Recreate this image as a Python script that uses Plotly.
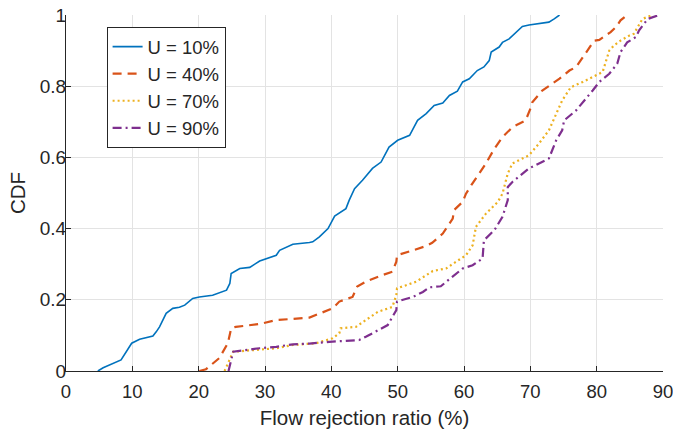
import plotly.graph_objects as go

# CDF curves
u10_x = [4.8, 5.6, 8.3, 9.9, 11.1, 13.1, 13.6, 14.1, 15.1, 16.1, 17.1, 17.9, 19.1, 20.1, 22.1,
         24.2, 24.7, 24.9, 26.2, 27.7, 29.2, 31.7, 32.2, 34.2, 36.7, 37.2, 38.2, 39.5, 40.5,
         42.2, 42.7, 43.5, 44.7, 46.2, 47.5, 48.7, 50.0, 51.8, 53.0, 54.3, 55.5, 56.8, 57.8,
         59.0, 59.8, 60.8, 62.0, 63.0, 63.8, 64.1, 65.3, 65.8, 66.8, 67.8, 68.8, 69.8, 71.3,
         72.8, 73.6, 74.4]
u10_y = [0.0, 0.009, 0.031, 0.078, 0.089, 0.098, 0.110, 0.124, 0.162, 0.176, 0.179, 0.185, 0.204,
         0.208, 0.213, 0.227, 0.246, 0.274, 0.288, 0.291, 0.309, 0.325, 0.339, 0.356, 0.361,
         0.363, 0.377, 0.400, 0.435, 0.456, 0.480, 0.512, 0.536, 0.569, 0.587, 0.629, 0.648,
         0.662, 0.704, 0.723, 0.746, 0.753, 0.774, 0.786, 0.812, 0.821, 0.844, 0.854, 0.872,
         0.896, 0.910, 0.923, 0.933, 0.952, 0.968, 0.972, 0.975, 0.980, 0.989, 1.0]

u40_x = [20.1, 21.1, 23.1, 24.4, 24.9, 25.6, 29.2, 31.7, 36.7, 38.2, 40.2, 41.2, 43.2, 43.9,
         45.2, 47.2, 49.2, 49.8, 49.9, 52.3, 54.3, 55.2, 56.8, 58.3, 58.5, 59.8, 60.3, 61.1,
         63.3, 64.6, 65.8, 67.3, 69.3, 70.1, 70.3, 71.8, 74.4, 75.9, 76.9, 78.1, 78.9, 79.6,
         80.4, 82.1, 82.9, 83.6, 84.6]
u40_y = [0.0, 0.005, 0.036, 0.078, 0.120, 0.124, 0.132, 0.143, 0.150, 0.162, 0.176, 0.195, 0.208,
         0.237, 0.251, 0.266, 0.279, 0.307, 0.325, 0.339, 0.351, 0.360, 0.386, 0.428, 0.452,
         0.475, 0.498, 0.522, 0.583, 0.625, 0.657, 0.685, 0.704, 0.741, 0.755, 0.788, 0.821,
         0.844, 0.854, 0.886, 0.910, 0.928, 0.930, 0.952, 0.966, 0.985, 1.0]

u70_x = [23.9, 25.2, 31.7, 34.2, 37.7, 40.2, 41.2, 41.4, 43.7, 45.7, 47.0, 49.2, 49.8, 49.9,
         52.8, 55.3, 57.3, 58.8, 60.3, 61.3, 61.8, 63.3, 65.1, 65.8, 66.6, 67.3, 69.8, 71.3,
         72.8, 74.8, 76.1, 77.9, 79.4, 80.9, 81.9, 82.6, 83.6, 84.9, 85.6, 86.4, 86.9, 88.4]
u70_y = [0.0, 0.054, 0.064, 0.073, 0.078, 0.092, 0.106, 0.120, 0.124, 0.148, 0.166, 0.180, 0.213,
         0.232, 0.251, 0.281, 0.288, 0.307, 0.325, 0.353, 0.405, 0.442, 0.475, 0.498, 0.555,
         0.583, 0.606, 0.639, 0.676, 0.760, 0.797, 0.812, 0.826, 0.840, 0.900, 0.914, 0.928,
         0.942, 0.947, 0.975, 0.989, 1.0]

u90_x = [24.5, 25.2, 29.2, 31.7, 34.2, 36.7, 39.7, 44.2, 45.2, 47.2, 48.5, 49.2, 49.8, 49.9,
         52.3, 53.8, 54.8, 56.5, 58.3, 59.8, 61.3, 62.8, 63.0, 64.6, 65.8, 66.6, 66.6, 67.3,
         69.8, 72.8, 73.9, 74.8, 75.1, 76.9, 79.4, 80.4, 81.9, 83.1, 83.6, 84.6, 85.9, 86.4,
         87.7, 89.4]
u90_y = [0.0, 0.054, 0.064, 0.068, 0.075, 0.077, 0.082, 0.087, 0.096, 0.115, 0.129, 0.152, 0.171,
         0.195, 0.208, 0.222, 0.235, 0.238, 0.265, 0.288, 0.297, 0.316, 0.367, 0.396, 0.433,
         0.480, 0.517, 0.531, 0.569, 0.597, 0.648, 0.676, 0.704, 0.732, 0.788, 0.812, 0.835,
         0.863, 0.896, 0.923, 0.938, 0.957, 0.989, 1.0]

x_ticks = [0, 10, 20, 30, 40, 50, 60, 70, 80, 90]
y_ticks = [0, 0.2, 0.4, 0.6, 0.8, 1]

axis_col = '#262626'
grid_col = '#e3e3e3'

trace1 = go.Scatter(x=u10_x, y=u10_y, mode='lines', name='U = 10%',
                    line=dict(color='#0072BD', width=1.6))
trace2 = go.Scatter(x=u40_x, y=u40_y, mode='lines', name='U = 40%',
                    line=dict(color='#D95319', width=2.2, dash='9px,6px'))
trace3 = go.Scatter(x=u70_x, y=u70_y, mode='lines', name='U = 70%',
                    line=dict(color='#EDB120', width=2.2, dash='2px,3px'))
trace4 = go.Scatter(x=u90_x, y=u90_y, mode='lines', name='U = 90%',
                    line=dict(color='#7E2F8E', width=2.2, dash='9px,4px,2px,4px'))

data = [trace1, trace2, trace3, trace4]

layout = go.Layout(
    width=673, height=429,
    margin=dict(l=66, r=10, t=15, b=58),
    paper_bgcolor='white', plot_bgcolor='white',
    font=dict(family='Liberation Sans, Arial, sans-serif', size=19, color=axis_col),
    xaxis=dict(range=[0, 90], tickvals=x_ticks, showgrid=True, gridcolor=grid_col,
               showline=True, linecolor=axis_col, linewidth=1, mirror=False,
               ticks='inside', ticklen=5, tickcolor=axis_col, zeroline=False,
               automargin=False, ticklabelstandoff=4, ticklabeloverflow='allow',
               tickfont=dict(size=18.5),
               title=dict(text='Flow rejection ratio (%)', font=dict(size=20.5), standoff=9)),
    yaxis=dict(range=[0, 1], tickvals=y_ticks, showgrid=True, gridcolor=grid_col,
               showline=True, linecolor=axis_col, linewidth=1, mirror=False,
               ticks='inside', ticklen=5, tickcolor=axis_col, zeroline=False,
               automargin=False, ticklabelstandoff=-5, ticklabeloverflow='allow',
               tickfont=dict(size=19),
               title=dict(text='CDF', font=dict(size=20.5), standoff=8)),
    legend=dict(x=0.068, y=0.966, xanchor='left', yanchor='top',
                bgcolor='white', bordercolor=axis_col, borderwidth=1,
                font=dict(size=18.5), tracegroupgap=0, itemwidth=30),
    showlegend=True,
)

fig = go.Figure(data=data, layout=layout)
# drop the page's default body margin so the figure sits at the window origin
fig.write_html('out.html', config={'displayModeBar': False},
               post_script="document.body.style.margin='0';")
